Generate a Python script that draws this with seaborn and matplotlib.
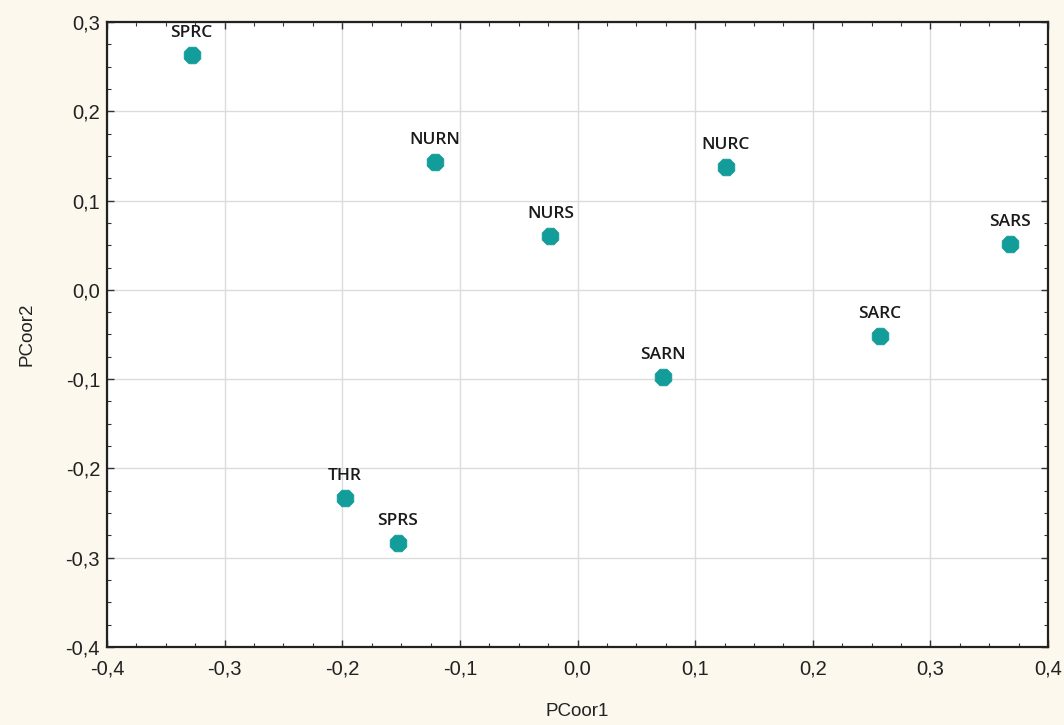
import matplotlib
matplotlib.use("Agg")
import matplotlib.pyplot as plt
import seaborn as sns
import pandas as pd
from matplotlib.ticker import MultipleLocator, FuncFormatter

labels = ["SPRC", "NURN", "NURC", "NURS", "SARS", "SARC", "SARN", "THR", "SPRS"]
pcoor1 = [-0.328, -0.121, 0.126, -0.023, 0.368, 0.257, 0.073, -0.198, -0.153]
pcoor2 = [0.263, 0.143, 0.138, 0.060, 0.051, -0.052, -0.098, -0.233, -0.283]

df = pd.DataFrame({"PCoor1": pcoor1, "PCoor2": pcoor2, "label": labels})

sns.set_style("white")
plt.rcParams['font.family'] = ['Liberation Sans', 'DejaVu Sans']

bg = "#fcf8ee"
fig = plt.figure(figsize=(10.64, 7.25), dpi=100, facecolor=bg)
ax = fig.add_axes([0.1006, 0.1076, 0.8844, 0.8621])
ax.set_facecolor("white")

sns.scatterplot(data=df, x="PCoor1", y="PCoor2", ax=ax, marker="8", s=170,
                color="#129c9a", edgecolor="#129c9a", linewidth=0.5, zorder=3)

for _, r in df.iterrows():
    ax.annotate(r["label"], (r["PCoor1"], r["PCoor2"]), xytext=(0, 10),
                textcoords="offset points", ha="center", va="bottom",
                fontsize=12.5, fontweight="semibold", family="Open Sans",
                color="#1a1a1a", zorder=4)

ax.set_xlim(-0.4, 0.4)
ax.set_ylim(-0.4, 0.3)
ax.xaxis.set_major_locator(MultipleLocator(0.1))
ax.yaxis.set_major_locator(MultipleLocator(0.1))
ax.xaxis.set_minor_locator(MultipleLocator(0.025))
ax.yaxis.set_minor_locator(MultipleLocator(0.025))

fmt = FuncFormatter(lambda v, p: f"{v:.1f}".replace(".", ",").replace("-0,0", "0,0"))
ax.xaxis.set_major_formatter(fmt)
ax.yaxis.set_major_formatter(fmt)

ax.grid(True, which="major", color="#dcdcdc", linewidth=1.0, zorder=0)
ax.set_axisbelow(True)
for s in ax.spines.values():
    s.set_color("#222222")
    s.set_linewidth(1.6)

ax.tick_params(which="both", direction="in", top=True, right=True, bottom=True, left=True,
               color="#333333")
ax.tick_params(which="major", length=5, width=1.0, labelsize=14.5, labelcolor="#222222")
ax.tick_params(axis="x", which="major", pad=9)
ax.tick_params(axis="y", which="major", pad=5)
ax.tick_params(which="minor", length=3, width=0.8)

ax.set_xlabel("PCoor1", fontsize=13.5, color="#222222", labelpad=18)
ax.set_ylabel("PCoor2", fontsize=13.5, color="#222222", labelpad=22)

fig.savefig("out.png", dpi=100, facecolor=bg)
